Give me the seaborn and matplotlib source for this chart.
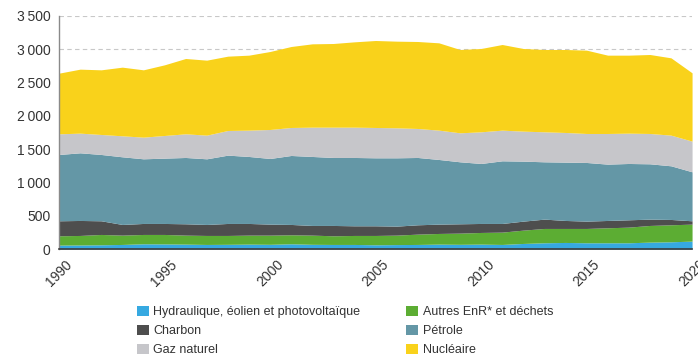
import matplotlib
matplotlib.use("Agg")
import matplotlib.pyplot as plt
from matplotlib.patches import Patch
from matplotlib.ticker import FuncFormatter, MultipleLocator
import numpy as np
import pandas as pd
import seaborn as sns

years = list(range(1990, 2021))

hydraulique = [60, 62, 65, 70, 80, 78, 75, 70, 72, 75, 72, 80, 72, 70, 70, 65,
               68, 70, 75, 72, 75, 70, 85, 95, 100, 95, 95, 95, 105, 110, 120]
autres_enr = [140, 143, 155, 140, 140, 142, 135, 135, 133, 135, 138, 135, 138, 130, 135, 140,
              142, 155, 160, 168, 175, 185, 200, 215, 210, 215, 225, 235, 250, 255, 255]
charbon = [225, 225, 205, 160, 165, 165, 170, 165, 180, 175, 165, 155, 145, 155, 145, 145,
           135, 140, 140, 140, 135, 130, 135, 140, 120, 110, 110, 110, 95, 80, 50]
petrole = [995, 1015, 995, 1015, 970, 980, 995, 985, 1025, 1005, 985, 1035, 1035, 1020, 1025, 1020,
           1025, 1010, 970, 930, 900, 940, 900, 860, 875, 880, 845, 845, 830, 805, 735]
gaz_naturel = [310, 295, 300, 315, 325, 340, 355, 355, 370, 395, 435, 420, 440, 455, 455, 455,
               450, 435, 440, 435, 475, 460, 450, 450, 445, 435, 460, 455, 455, 460, 460]
nucleaire = [910, 960, 970, 1030, 1010, 1060, 1130, 1125, 1115, 1125, 1170, 1215, 1250, 1255, 1280, 1305,
             1300, 1305, 1310, 1250, 1250, 1285, 1240, 1235, 1245, 1250, 1175, 1170, 1185, 1160, 1025]

labels = ["Hydraulique, éolien et photovoltaïque", "Autres EnR* et déchets", "Charbon",
          "Pétrole", "Gaz naturel", "Nucléaire"]
colors = ["#36a9e1", "#5cad33", "#4e4e4e", "#6497a6", "#c6c6ca", "#f9d21b"]

df = pd.DataFrame({
    "annee": years,
    labels[0]: hydraulique,
    labels[1]: autres_enr,
    labels[2]: charbon,
    labels[3]: petrole,
    labels[4]: gaz_naturel,
    labels[5]: nucleaire,
})

sns.set_theme(style="white")
plt.rcParams["font.family"] = ["Liberation Sans", "DejaVu Sans"]

fig = plt.figure(figsize=(6.98, 3.6), dpi=100)
ax = fig.add_axes([0.0845, 0.308, 0.907, 0.648])

ax.stackplot(df["annee"], *[df[c] for c in labels], colors=colors, linewidth=0, zorder=2)

ax.set_xlim(1990, 2020)
ax.set_ylim(0, 3500)
ax.yaxis.set_major_locator(MultipleLocator(500))
ax.xaxis.set_major_locator(MultipleLocator(5))
ax.yaxis.set_major_formatter(FuncFormatter(lambda v, p: f"{int(v):,}".replace(",", "\u202f")))
ax.grid(axis="y", color="#c8c8c8", linestyle=(0, (4, 3)), linewidth=0.8, zorder=0)
ax.set_axisbelow(True)

for s in ["top", "right"]:
    ax.spines[s].set_visible(False)
ax.spines["left"].set_color("#8a8a8a")
ax.spines["left"].set_linewidth(1.0)
ax.spines["bottom"].set_color("#3c3c3c")
ax.spines["bottom"].set_linewidth(1.2)

ax.tick_params(axis="both", which="major", direction="out", length=4, width=1,
               color="#6a6a6a", labelsize=10, labelcolor="#333333", pad=2)
for lbl in ax.get_xticklabels():
    lbl.set_rotation(45)
    lbl.set_ha("center")
    lbl.set_va("top")
ax.set_xlabel("")
ax.set_ylabel("")

order = [0, 2, 4, 1, 3, 5]
handles = [Patch(facecolor=colors[i], edgecolor="none", label=labels[i]) for i in order]
fig.legend(handles=handles, loc="upper left", bbox_to_anchor=(0.196, 0.151), ncol=2,
           frameon=False, fontsize=9, labelcolor="#333333", handlelength=0.95,
           handleheight=0.95, handletextpad=0.35, columnspacing=3.7, labelspacing=0.5,
           borderaxespad=0, borderpad=0)

fig.savefig("out.png", dpi=100)
